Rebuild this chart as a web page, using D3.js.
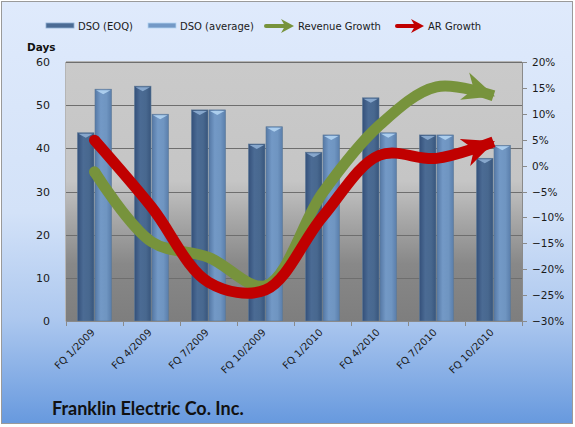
<!DOCTYPE html>
<html lang="en">
<head>
<meta charset="UTF-8">
<title>Franklin Electric DSO</title>
<script src="https://cdn.jsdelivr.net/npm/d3@7"></script>
<style>
  * { margin: 0; padding: 0; }
  body { background: #fff; }
  svg { display: block; font-family: "DejaVu Sans", Verdana, sans-serif; }
</style>
</head>
<body>
<svg id="chart" width="575" height="427"></svg>
<script>
// data
var quarters = ["FQ 1/2009", "FQ 4/2009", "FQ 7/2009", "FQ 10/2009", "FQ 1/2010", "FQ 4/2010", "FQ 7/2010", "FQ 10/2010"];
var dsoEoq = [43.6, 54.4, 48.9, 41.0, 39.1, 51.7, 43.1, 37.7];
var dsoAvg = [53.7, 47.9, 48.9, 45.0, 43.1, 43.6, 43.1, 40.7];
var revenueGrowth = [-0.012, -0.147, -0.177, -0.232, -0.053, 0.078, 0.152, 0.135];
var arGrowth = [0.049, -0.08, -0.225, -0.24, -0.099, 0.02, 0.014, 0.046];
var daysTicks = [0, 10, 20, 30, 40, 50, 60];
var pctTicks = [-0.3, -0.25, -0.2, -0.15, -0.1, -0.05, 0, 0.05, 0.1, 0.15, 0.2];

var svg = d3.select("#chart");
var defs = svg.append("defs");

// plot area box ("top" is taken by window.top, so prefix these)
var pLeft = 66, pRight = 522, pTop = 62, pBottom = 321;

function grad(id, stops, vertical) {
    var g = defs.append("linearGradient").attr("id", id)
        .attr("x1", 0).attr("y1", 0)
        .attr("x2", vertical ? 0 : 1).attr("y2", vertical ? 1 : 0);
    stops.forEach(function (s) {
        g.append("stop").attr("offset", s[0]).attr("stop-color", s[1]);
    });
}
grad("bgGrad", [[0, "#dfeafc"], [0.5, "#d3e2f8"], [0.75, "#adc8ef"], [1, "#6799de"]], true);
grad("plotGrad", [[0, "#cacaca"], [0.46, "#c5c5c5"], [0.6, "#a9a9a9"], [0.78, "#888888"], [1, "#7e7e7e"]], true);
grad("darkBar", [[0, "#34507a"], [0.35, "#4b6b94"], [0.7, "#48688f"], [1, "#38557c"]], false);
grad("lightBar", [[0, "#5578a5"], [0.35, "#7399c6"], [0.7, "#6f95c1"], [1, "#5a7eab"]], false);

// chart background
svg.append("rect").attr("x", 1.5).attr("y", 1.5).attr("width", 571).attr("height", 422)
    .attr("fill", "url(#bgGrad)").attr("stroke", "#9a9a9a").attr("stroke-width", 1);

var x = d3.scaleBand().domain(quarters).range([pLeft, pRight]);
var yDays = d3.scaleLinear().domain([0, 60]).range([pBottom, pTop]);
var yPct = d3.scaleLinear().domain([-0.3, 0.2]).range([pBottom, pTop]);

svg.append("rect").attr("x", pLeft).attr("y", pTop)
    .attr("width", pRight - pLeft).attr("height", pBottom - pTop)
    .attr("fill", "url(#plotGrad)");

// gridlines
svg.append("g").selectAll("line").data(daysTicks.filter(function (d) { return d > 0; }))
    .enter().append("line")
    .attr("x1", pLeft).attr("x2", pRight)
    .attr("y1", function (d) { return Math.round(yDays(d)) + 0.5; })
    .attr("y2", function (d) { return Math.round(yDays(d)) + 0.5; })
    .attr("stroke", "#6e6e6e").attr("stroke-width", 1);

// bars
var barW = 16.5;
var groups = svg.append("g").selectAll("g").data(quarters).enter().append("g");

function drawBars(values, fill, offset, capColor) {
    groups.append("rect")
        .attr("x", function (d) { return x(d) + x.bandwidth() / 2 + offset; })
        .attr("y", function (d, i) { return yDays(values[i]); })
        .attr("width", barW)
        .attr("height", function (d, i) { return pBottom - yDays(values[i]); })
        .attr("fill", fill)
        .attr("stroke", "#5d7896").attr("stroke-width", 0.6);
    // little bevelled cap on top
    groups.append("path")
        .attr("d", function (d, i) {
            var x0 = x(d) + x.bandwidth() / 2 + offset, y0 = yDays(values[i]);
            return "M" + (x0 + 1) + "," + (y0 + 1) + "L" + (x0 + barW - 1) + "," + (y0 + 1) +
                "L" + (x0 + barW / 2) + "," + (y0 + 5) + "Z";
        })
        .attr("fill", capColor).attr("opacity", 0.9);
}
drawBars(dsoEoq, "url(#darkBar)", -barW - 0.5, "#8eaed3");
drawBars(dsoAvg, "url(#lightBar)", 0.5, "#b3d4f2");

// axes lines and ticks
svg.append("line").attr("x1", pLeft).attr("x2", pRight + 0.5)
    .attr("y1", pBottom + 0.5).attr("y2", pBottom + 0.5).attr("stroke", "#8a8a8a");
svg.append("line").attr("x1", pRight + 0.5).attr("x2", pRight + 0.5)
    .attr("y1", pTop).attr("y2", pBottom + 0.5).attr("stroke", "#8a8a8a");
svg.append("line").attr("x1", pLeft - 0.5).attr("x2", pLeft - 0.5)
    .attr("y1", pTop).attr("y2", pBottom + 0.5).attr("stroke", "#b5b5b5");
svg.append("line").attr("x1", pLeft).attr("x2", pRight)
    .attr("y1", pTop - 0.5).attr("y2", pTop - 0.5).attr("stroke", "#b5b5b5");

svg.append("g").selectAll("line").data(quarters.concat(["end"])).enter().append("line")
    .attr("x1", function (d, i) { return Math.round(pLeft + i * x.bandwidth()) + 0.5; })
    .attr("x2", function (d, i) { return Math.round(pLeft + i * x.bandwidth()) + 0.5; })
    .attr("y1", pBottom).attr("y2", pBottom + 5).attr("stroke", "#8a8a8a");

svg.append("g").selectAll("line").data(pctTicks).enter().append("line")
    .attr("x1", pRight).attr("x2", pRight + 5)
    .attr("y1", function (d) { return Math.round(yPct(d)) + 0.5; })
    .attr("y2", function (d) { return Math.round(yPct(d)) + 0.5; })
    .attr("stroke", "#8a8a8a");

// tick labels
svg.append("g").selectAll("text").data(daysTicks).enter().append("text")
    .attr("x", 50).attr("y", function (d) { return yDays(d) + 4; })
    .attr("text-anchor", "end").attr("font-size", 11).attr("fill", "#1a1a1a")
    .text(function (d) { return d; });

svg.append("g").selectAll("text").data(pctTicks).enter().append("text")
    .attr("x", 532).attr("y", function (d) { return yPct(d) + 4; })
    .attr("font-size", 10.5).attr("fill", "#1a1a1a")
    .text(d3.format(".0%"));

svg.append("text").attr("x", 27).attr("y", 51).attr("font-size", 10.5)
    .attr("font-weight", "bold").attr("fill", "#111").text("Days");

svg.append("g").selectAll("text").data(quarters).enter().append("text")
    .attr("transform", function (d) {
        return "translate(" + (x(d) + x.bandwidth() / 2 + 1) + "," + (pBottom + 12) + ") rotate(-45)";
    })
    .attr("text-anchor", "end").attr("font-size", 10).attr("fill", "#1a1a1a")
    .text(function (d) { return d; });

// arrow markers
function marker(id, color) {
    defs.append("marker").attr("id", id)
        .attr("viewBox", "0 0 10 10").attr("refX", 9.5).attr("refY", 5)
        .attr("markerUnits", "userSpaceOnUse")
        .attr("markerWidth", 32).attr("markerHeight", 32)
        .attr("orient", "auto")
        .append("path").attr("d", "M0,0.5 L10,5 L0,9.5 L3,5 Z").attr("fill", color);
}
marker("arrGreen", "#77933c");
marker("arrRed", "#c00000");

var cx = function (i) { return x(quarters[i]) + x.bandwidth() / 2; };
var line = d3.line()
    .x(function (d, i) { return cx(i); })
    .y(function (d) { return yPct(d); })
    .curve(d3.curveCatmullRom.alpha(0.5));

function growthLine(values, color, markerId) {
    svg.append("path").datum(values).attr("d", line)
        .attr("fill", "none").attr("stroke", color).attr("stroke-width", 11)
        .attr("marker-end", "url(#" + markerId + ")");
    // rounded start
    svg.append("circle").attr("cx", cx(0)).attr("cy", yPct(values[0]))
        .attr("r", 5.5).attr("fill", color);
}
growthLine(revenueGrowth, "#77933c", "arrGreen");
growthLine(arGrowth, "#c00000", "arrRed");

// legend
var legend = svg.append("g").attr("font-size", 10).attr("fill", "#1a1a1a");
legend.append("rect").attr("x", 46).attr("y", 23).attr("width", 28).attr("height", 5)
    .attr("fill", "#4b6b94").attr("stroke", "#8eaed3").attr("stroke-width", 0.8);
legend.append("text").attr("x", 78).attr("y", 30).text("DSO (EOQ)");
legend.append("rect").attr("x", 148).attr("y", 23).attr("width", 28).attr("height", 5)
    .attr("fill", "#7399c6").attr("stroke", "#b3d4f2").attr("stroke-width", 0.8);
legend.append("text").attr("x", 180).attr("y", 30).text("DSO (average)");
legend.append("line").attr("x1", 266).attr("x2", 286).attr("y1", 26).attr("y2", 26)
    .attr("stroke", "#77933c").attr("stroke-width", 4).attr("stroke-linecap", "round");
legend.append("path").attr("d", "M281,19 L294,26 L281,33 L285,26 Z").attr("fill", "#77933c");
legend.append("text").attr("x", 298).attr("y", 30).text("Revenue Growth");
legend.append("line").attr("x1", 397).attr("x2", 416).attr("y1", 26).attr("y2", 26)
    .attr("stroke", "#c00000").attr("stroke-width", 4).attr("stroke-linecap", "round");
legend.append("path").attr("d", "M411,19 L424,26 L411,33 L415,26 Z").attr("fill", "#c00000");
legend.append("text").attr("x", 428).attr("y", 30).text("AR Growth");

// title
svg.append("text").attr("x", 52).attr("y", 415)
    .attr("font-family", "Lato, 'Open Sans', sans-serif")
    .attr("font-size", 18).attr("font-weight", "bold").attr("fill", "#111")
    .text("Franklin Electric Co. Inc.");
</script>
</body>
</html>
